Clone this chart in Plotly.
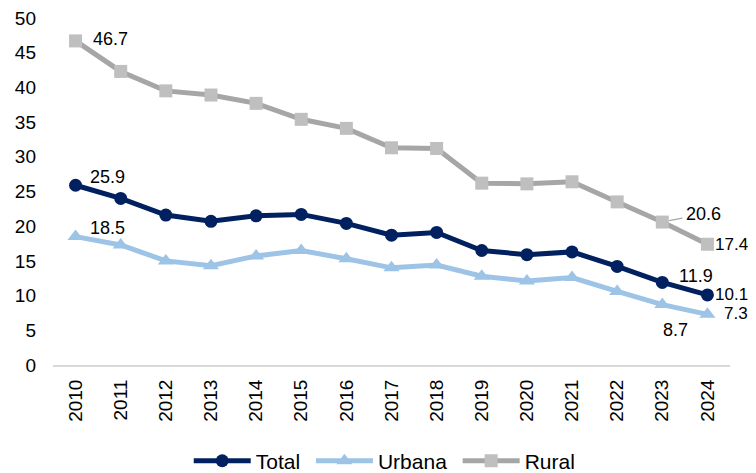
import plotly.graph_objects as go

years = [str(y) for y in range(2010, 2025)]
total = [25.9, 24.0, 21.6, 20.7, 21.5, 21.7, 20.4, 18.7, 19.1, 16.5, 15.9, 16.3, 14.2, 11.9, 10.1]
urbana = [18.5, 17.3, 15.0, 14.3, 15.7, 16.5, 15.3, 14.0, 14.4, 12.8, 12.1, 12.6, 10.6, 8.7, 7.3]
rural = [46.7, 42.3, 39.5, 38.9, 37.7, 35.4, 34.1, 31.3, 31.2, 26.2, 26.1, 26.4, 23.5, 20.6, 17.4]
series_names = ["Total", "Urbana", "Rural"]

# label placement: (series, index, xshift, yshift, xanchor, size)
labels = [
    ("rural", 0, 15, 2, "left", 18),
    ("total", 0, 12, 8, "left", 18),
    ("urbana", 0, 12, 9, "left", 18),
    ("rural", 14, 6, 0, "left", 17),
    ("total", 13, 15, 6, "left", 18),
    ("total", 14, 6, 0, "left", 17),
    ("urbana", 14, 15, 1, "left", 17),
    ("urbana", 13, 13, -25, "center", 18),
]
series = {"total": total, "urbana": urbana, "rural": rural}

FONT = "Liberation Sans, Arial, sans-serif"
NB = "\u00a0"

fig = go.Figure()
fig.add_trace(go.Scatter(
    x=years, y=total, name=series_names[0] + NB, mode="lines+markers",
    line=dict(color="#002060", width=5),
    marker=dict(symbol="circle", size=13, color="#002060"),
))
fig.add_trace(go.Scatter(
    x=years, y=urbana, name=series_names[1] + NB, mode="lines+markers",
    line=dict(color="#9DC3E6", width=5),
    marker=dict(symbol="triangle-up", size=14, color="#9DC3E6"),
))
fig.add_trace(go.Scatter(
    x=years, y=rural, name=series_names[2], mode="lines+markers",
    line=dict(color="#A6A6A6", width=5),
    marker=dict(symbol="square", size=13, color="#BFBFBF"),
))

annots = []
for s, i, xs, ys, xa, fs in labels:
    annots.append(dict(
        xref="x", yref="y",
        x=i, y=series[s][i], text="%.1f" % series[s][i],
        showarrow=False, xanchor=xa, yanchor="middle",
        xshift=xs, yshift=ys,
        font=dict(family=FONT, size=fs, color="#000000"),
    ))
# 2023 rural label with its small leader line
annots.append(dict(
    xref="x", yref="y", x=13, y=rural[13], text="%.1f" % rural[13],
    showarrow=True, arrowhead=0, arrowwidth=1.2, arrowcolor="#A6A6A6",
    ax=41, ay=-8, standoff=7, startstandoff=2,
    font=dict(family=FONT, size=18, color="#000000"),
))

fig.update_layout(
    annotations=annots,
    width=756, height=473,
    margin=dict(l=45, r=34, t=10, b=116, autoexpand=False),
    paper_bgcolor="white", plot_bgcolor="white",
    font=dict(family=FONT, size=19, color="#000000"),
    showlegend=True,
    legend=dict(
        orientation="h", x=0.49, xanchor="center", y=-0.277, yanchor="middle",
        font=dict(family=FONT, size=21, color="#000000"),
        itemwidth=57, traceorder="normal",
    ),
    xaxis=dict(
        type="category", tickangle=-90, showgrid=False,
        showline=True, linecolor="#D9D9D9", linewidth=2,
        ticks="", tickfont=dict(size=19), ticklabelstandoff=5,
        range=[-0.5, 14.5],
    ),
    yaxis=dict(
        range=[0, 50], dtick=5, showgrid=False, zeroline=False,
        showline=False, ticks="", tickfont=dict(size=19),
        ticklabelstandoff=16, ticklabeloverflow="allow",
    ),
)

fig.write_html("out.html")
